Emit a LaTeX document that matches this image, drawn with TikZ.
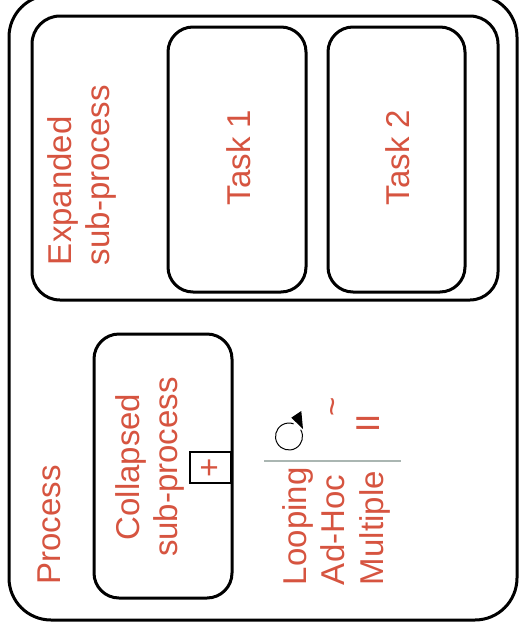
\documentclass[tikz,border=0pt]{standalone}
\usepackage{fontspec}
\setmainfont{Liberation Sans}
\usetikzlibrary{arrows.meta,positioning}
\definecolor{bpmnred}{RGB}{214,84,64}
\definecolor{sepgray}{RGB}{170,182,178}

\begin{document}
\begin{tikzpicture}
[x=1pt, y=-1pt,
% STYLES
every node/.style={inner sep=0pt, outer sep=0pt},
% The box style is used to draw the activities
box/.style={rectangle, draw, line width=3pt, rounded corners=25pt},
% The lbl style is used for the red rotated texts
lbl/.style={rotate=90, text=bpmnred, font=\fontsize{33}{38.5}\selectfont},
% The marker style is used for the small collapse box
marker/.style={rectangle, draw, line width=1.5pt, minimum width=41pt, minimum height=31pt}]

\useasboundingbox (0,0) rectangle (519,630);

% Draw activities
\node [box, rounded corners=42pt, minimum width=508pt, minimum height=625pt] (process) at (263,307.5) {};
\node [box, rounded corners=28pt, minimum width=466pt, minimum height=284pt] (expanded) at (265,158) {};
\node [box, minimum width=138pt, minimum height=265pt] (task1) at (237,159.5) {};
\node [box, minimum width=137pt, minimum height=265pt] (task2) at (396.5,159.5) {};
\node [box, minimum width=138pt, minimum height=264pt] (collapsed) at (163,466) {};
\node [marker] (plus) at (210.5,467.5) {};

%%%%%%%%%%%%%%%
% Texts

\node [lbl] (process-text) at (49.5,525) {Process};
\node [lbl, align=left, anchor=west] (expanded-text) at (82,265) {Expanded\\sub-process};
\node [lbl, xshift=2pt, yshift=-1.5pt] (task1-text) at (task1) {Task 1};
\node [lbl, xshift=2pt, yshift=-1.5pt] (task2-text) at (task2) {Task 2};
\node [lbl, align=center] (collapsed-text) at (150,467) {Collapsed\\sub-process};
\node [lbl] (plus-text) at (plus) {+};

% markers
\node [lbl, align=left, anchor=west] (markers-text) at (336,585) {Looping\\Ad-Hoc\\Multiple};
\node [lbl] (adhoc-mark) at (337,407) {\textasciitilde};
\node [lbl] (multi-mark) at (368,423) {II};

%%%%%%%%%%%%%%%

% loop marker and separator
\coordinate (loop) at (289,436.5);
\coordinate (sep-start) at (264,461);
\coordinate (sep-end) at (401,461);
\draw [line width=1pt] (loop) ++(-30:13.5) arc [start angle=-30, end angle=290, radius=13.5];
\fill (291.3,417.7) -- (301.3,411) -- (303,429) -- cycle;
\draw [sepgray, line width=1.5pt] (sep-start) -- (sep-end);

\end{tikzpicture}
\end{document}
